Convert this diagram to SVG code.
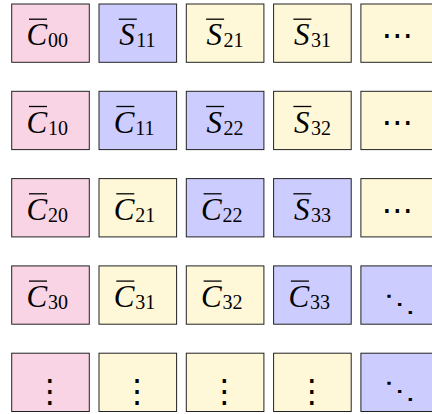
<svg xmlns="http://www.w3.org/2000/svg" width="432" height="414" viewBox="0 0 432 414">
<style>
.bx{stroke:#222;stroke-width:1}
.p{fill:#f9d4e4}.b{fill:#ccccff}.y{fill:#fff8d8}
.bar{stroke:#000;stroke-width:1.3}
.l{font-family:'Liberation Serif','Times New Roman',serif;font-size:31px;fill:#000}
.v{font-style:italic}
.s{font-size:20px}
.d{font-family:'DejaVu Serif','DejaVu Sans',serif;font-size:32px;fill:#000;text-anchor:middle}
</style>
<g id="n00"><rect class="bx p" x="11.7" y="4" width="77.6" height="58.3"/><text class="l" x="26.5" y="45.2"><tspan class="v">C</tspan><tspan class="s" x="48" dy="2">00</tspan></text><line class="bar" x1="29" y1="19.2" x2="47" y2="19.2"/></g>
<g id="n01"><rect class="bx b" x="99" y="4" width="77.6" height="58.3"/><text class="l" x="119.3" y="45.2"><tspan class="v">S</tspan><tspan class="s" x="136.3" dy="2">11</tspan></text><line class="bar" x1="118.8" y1="19.2" x2="136.8" y2="19.2"/></g>
<g id="n02"><rect class="bx y" x="186.3" y="4" width="77.6" height="58.3"/><text class="l" x="206.6" y="45.2"><tspan class="v">S</tspan><tspan class="s" x="223.6" dy="2">21</tspan></text><line class="bar" x1="206.1" y1="19.2" x2="224.1" y2="19.2"/></g>
<g id="n03"><rect class="bx y" x="273.6" y="4" width="77.6" height="58.3"/><text class="l" x="293.9" y="45.2"><tspan class="v">S</tspan><tspan class="s" x="310.9" dy="2">31</tspan></text><line class="bar" x1="293.4" y1="19.2" x2="311.4" y2="19.2"/></g>
<g id="n04"><rect class="bx y" x="360.9" y="4" width="77.6" height="58.3"/><text class="d" x="397.5" y="46">⋯</text></g>

<g id="n10"><rect class="bx p" x="11.7" y="91.3" width="77.6" height="58.3"/><text class="l" x="26.5" y="132.5"><tspan class="v">C</tspan><tspan class="s" x="48" dy="2">10</tspan></text><line class="bar" x1="29" y1="106.5" x2="47" y2="106.5"/></g>
<g id="n11"><rect class="bx b" x="99" y="91.3" width="77.6" height="58.3"/><text class="l" x="113.8" y="132.5"><tspan class="v">C</tspan><tspan class="s" x="135.3" dy="2">11</tspan></text><line class="bar" x1="116.3" y1="106.5" x2="134.3" y2="106.5"/></g>
<g id="n12"><rect class="bx b" x="186.3" y="91.3" width="77.6" height="58.3"/><text class="l" x="206.6" y="132.5"><tspan class="v">S</tspan><tspan class="s" x="223.6" dy="2">22</tspan></text><line class="bar" x1="206.1" y1="106.5" x2="224.1" y2="106.5"/></g>
<g id="n13"><rect class="bx y" x="273.6" y="91.3" width="77.6" height="58.3"/><text class="l" x="293.9" y="132.5"><tspan class="v">S</tspan><tspan class="s" x="310.9" dy="2">32</tspan></text><line class="bar" x1="293.4" y1="106.5" x2="311.4" y2="106.5"/></g>
<g id="n14"><rect class="bx y" x="360.9" y="91.3" width="77.6" height="58.3"/><text class="d" x="397.5" y="133.3">⋯</text></g>

<g id="n20"><rect class="bx p" x="11.7" y="178.6" width="77.6" height="58.3"/><text class="l" x="26.5" y="219.8"><tspan class="v">C</tspan><tspan class="s" x="48" dy="2">20</tspan></text><line class="bar" x1="29" y1="193.8" x2="47" y2="193.8"/></g>
<g id="n21"><rect class="bx y" x="99" y="178.6" width="77.6" height="58.3"/><text class="l" x="113.8" y="219.8"><tspan class="v">C</tspan><tspan class="s" x="135.3" dy="2">21</tspan></text><line class="bar" x1="116.3" y1="193.8" x2="134.3" y2="193.8"/></g>
<g id="n22"><rect class="bx b" x="186.3" y="178.6" width="77.6" height="58.3"/><text class="l" x="201.1" y="219.8"><tspan class="v">C</tspan><tspan class="s" x="222.6" dy="2">22</tspan></text><line class="bar" x1="203.6" y1="193.8" x2="221.6" y2="193.8"/></g>
<g id="n23"><rect class="bx b" x="273.6" y="178.6" width="77.6" height="58.3"/><text class="l" x="293.9" y="219.8"><tspan class="v">S</tspan><tspan class="s" x="310.9" dy="2">33</tspan></text><line class="bar" x1="293.4" y1="193.8" x2="311.4" y2="193.8"/></g>
<g id="n24"><rect class="bx y" x="360.9" y="178.6" width="77.6" height="58.3"/><text class="d" x="397.5" y="220.6">⋯</text></g>

<g id="n30"><rect class="bx p" x="11.7" y="265.9" width="77.6" height="58.3"/><text class="l" x="26.5" y="307.1"><tspan class="v">C</tspan><tspan class="s" x="48" dy="2">30</tspan></text><line class="bar" x1="29" y1="281.1" x2="47" y2="281.1"/></g>
<g id="n31"><rect class="bx y" x="99" y="265.9" width="77.6" height="58.3"/><text class="l" x="113.8" y="307.1"><tspan class="v">C</tspan><tspan class="s" x="135.3" dy="2">31</tspan></text><line class="bar" x1="116.3" y1="281.1" x2="134.3" y2="281.1"/></g>
<g id="n32"><rect class="bx y" x="186.3" y="265.9" width="77.6" height="58.3"/><text class="l" x="201.1" y="307.1"><tspan class="v">C</tspan><tspan class="s" x="222.6" dy="2">32</tspan></text><line class="bar" x1="203.6" y1="281.1" x2="221.6" y2="281.1"/></g>
<g id="n33"><rect class="bx b" x="273.6" y="265.9" width="77.6" height="58.3"/><text class="l" x="288.4" y="307.1"><tspan class="v">C</tspan><tspan class="s" x="309.9" dy="2">33</tspan></text><line class="bar" x1="290.9" y1="281.1" x2="308.9" y2="281.1"/></g>
<g id="n34"><rect class="bx b" x="360.9" y="265.9" width="77.6" height="58.3"/><text class="d" transform="translate(399.5 303.3) scale(1 0.76)" x="0" y="11.8">⋱</text></g>

<g id="n40"><rect class="bx p" x="11.7" y="353.2" width="77.6" height="58.3"/><text class="d" x="50" y="401.8">⋮</text></g>
<g id="n41"><rect class="bx y" x="99" y="353.2" width="77.6" height="58.3"/><text class="d" x="137.3" y="401.8">⋮</text></g>
<g id="n42"><rect class="bx y" x="186.3" y="353.2" width="77.6" height="58.3"/><text class="d" x="224.6" y="401.8">⋮</text></g>
<g id="n43"><rect class="bx y" x="273.6" y="353.2" width="77.6" height="58.3"/><text class="d" x="311.9" y="401.8">⋮</text></g>
<g id="n44"><rect class="bx b" x="360.9" y="353.2" width="77.6" height="58.3"/><text class="d" transform="translate(399.5 390.3) scale(1 0.76)" x="0" y="11.8">⋱</text></g>
</svg>
